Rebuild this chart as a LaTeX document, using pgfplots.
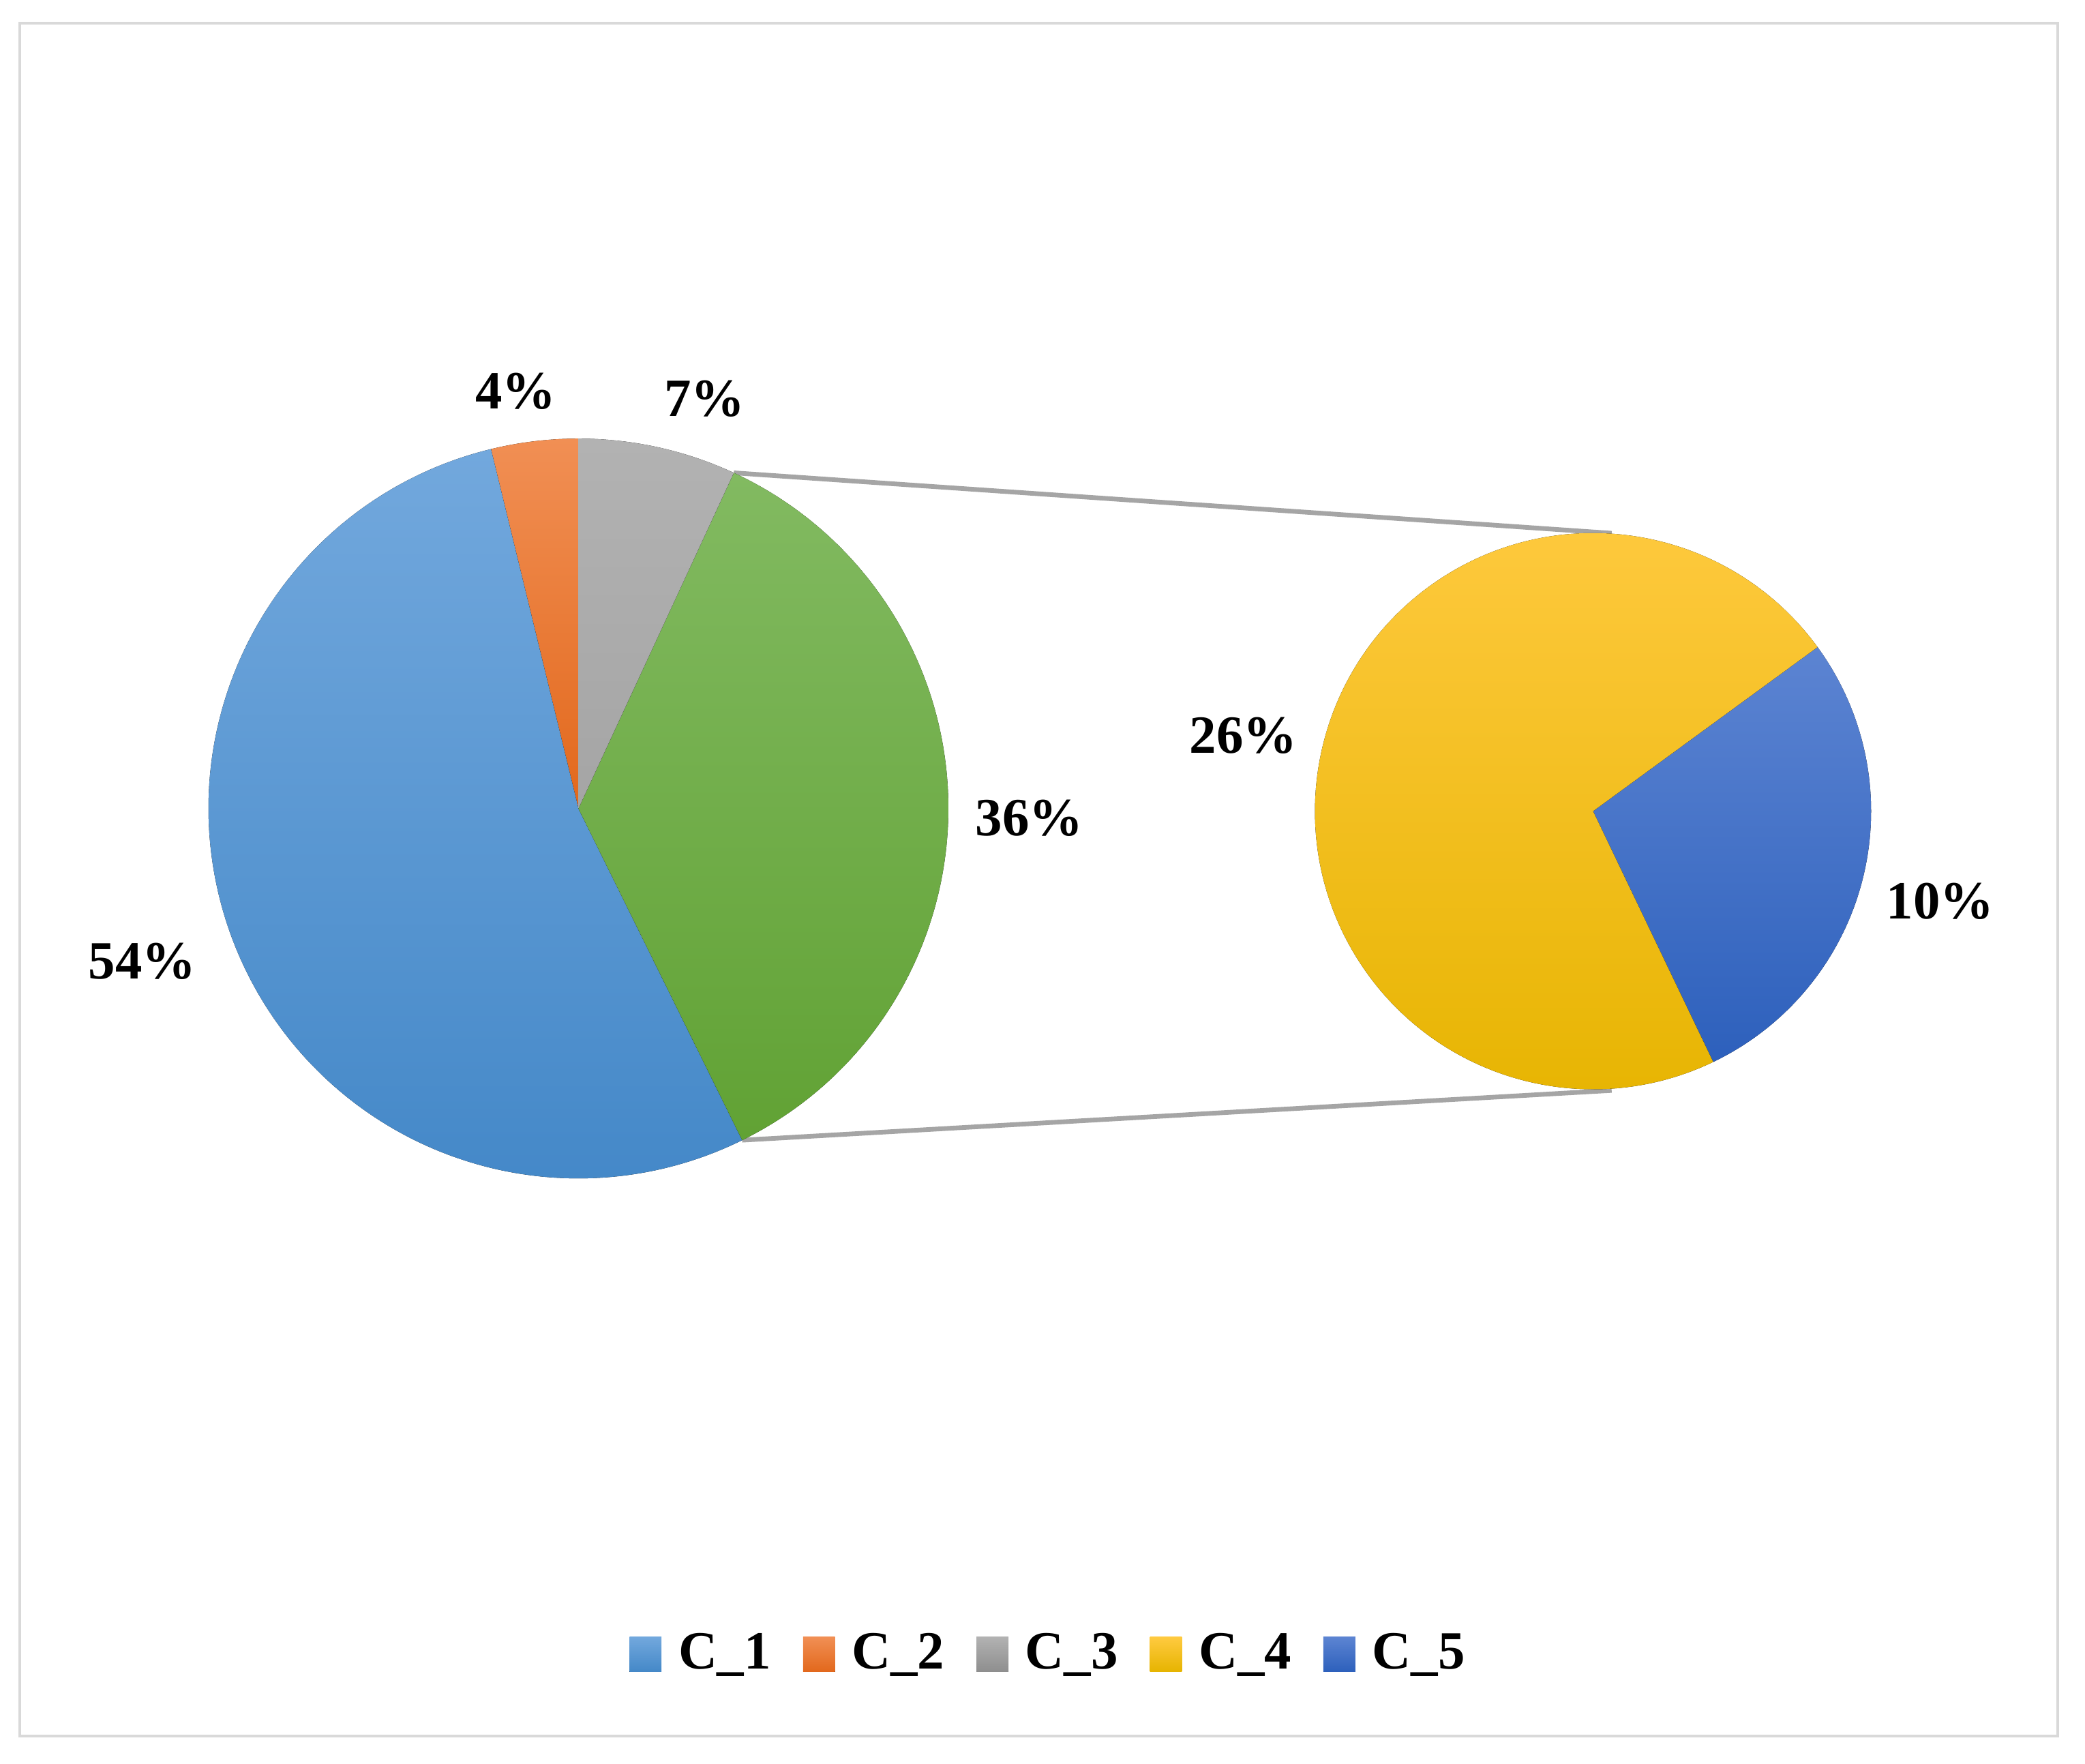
\documentclass[border=0pt]{standalone}
\usepackage{fontspec}
\setmainfont{Liberation Serif}
\usepackage{pgfplots}
\usepackage{pgfplotstable}
\pgfplotsset{compat=1.18}

% slice colours: light top, base, dark bottom
\definecolor{cAt}{RGB}{114,168,221}\definecolor{cAm}{RGB}{91,155,213}\definecolor{cAb}{RGB}{68,136,200}
\definecolor{cBt}{RGB}{241,143,84}\definecolor{cBm}{RGB}{237,125,49}\definecolor{cBb}{RGB}{226,104,28}
\definecolor{cCt}{RGB}{178,178,178}\definecolor{cCm}{RGB}{165,165,165}\definecolor{cCb}{RGB}{142,142,142}
\definecolor{cDt}{RGB}{255,202,64}\definecolor{cDm}{RGB}{255,194,0}\definecolor{cDb}{RGB}{230,180,0}
\definecolor{cEt}{RGB}{92,132,210}\definecolor{cEm}{RGB}{68,114,196}\definecolor{cEb}{RGB}{45,96,188}
\definecolor{cOt}{RGB}{130,186,97}\definecolor{cOm}{RGB}{112,173,71}\definecolor{cOb}{RGB}{97,162,52}
\definecolor{framegray}{RGB}{217,217,217}
\definecolor{linkgray}{RGB}{165,165,165}

\pgfplotstableread{
name value
C1   53.5
C2   3.8
C3   6.9
C4   25.8
C5   10.0
}\piedata

\newcommand{\pielabel}{\fontsize{11.5}{13}\selectfont\bfseries}
\newcommand{\legsq}[3]{\addlegendimage{legend image code/.code={%
  \fill[draw=none, top color=#1, middle color=#2, bottom color=#3] (0cm,-0.13cm) rectangle (0.24cm,0.13cm);
  \path (0.29cm,0cm);}}}

\begin{document}
\begin{tikzpicture}
\pgfplotstablegetelem{0}{value}\of\piedata \let\vA\pgfplotsretval
\pgfplotstablegetelem{1}{value}\of\piedata \let\vB\pgfplotsretval
\pgfplotstablegetelem{2}{value}\of\piedata \let\vC\pgfplotsretval
\pgfplotstablegetelem{3}{value}\of\piedata \let\vD\pgfplotsretval
\pgfplotstablegetelem{4}{value}\of\piedata \let\vE\pgfplotsretval
\pgfmathsetmacro\vO{\vD+\vE}
% first pie, counterclockwise from 12 o'clock: C_2, C_1, other, C_3
\pgfmathsetmacro\aA{90}
\pgfmathsetmacro\aB{\aA+3.6*\vB}
\pgfmathsetmacro\aC{\aB+3.6*\vA}
\pgfmathsetmacro\aD{\aC+3.6*\vO}
\pgfmathsetmacro\aE{\aA+360}
% second pie: C_5, C_4
\pgfmathsetmacro\bA{-64.4}
\pgfmathsetmacro\bB{\bA+360*\vE/\vO}
\pgfmathsetmacro\bC{\bA+360}
\begin{axis}[
    x=0.01cm, y=0.01cm,
    xmin=0, xmax=1568, ymin=0, ymax=1326,
    scale only axis,
    hide axis,
    clip=false,
    legend columns=5,
    legend style={draw=none, fill=none,
        at={(0.5045,0.0618)}, anchor=center,
        font=\pielabel,
        /tikz/every even column/.append style={column sep=0.17cm}},
    ]
\fill[white] (axis cs:0,0) rectangle (axis cs:1568,1326);
\draw[framegray, line width=0.02cm] (axis cs:14.8,20.6) rectangle (axis cs:1547.6,1308.6);

% connector lines
\draw[linkgray, line width=0.035cm] (axis cs:435,718) ++(\aD:2.78cm) -- (axis cs:1212,925);
\draw[linkgray, line width=0.035cm] (axis cs:435,718) ++(\aC:2.78cm) -- (axis cs:1212,506);

% main pie
\fill[top color=cBt, middle color=cBm, bottom color=cBb] (axis cs:435,718) -- ++(\aA:2.78cm) arc[start angle=\aA, end angle=\aB, radius=2.78cm] -- cycle;
\fill[top color=cAt, middle color=cAm, bottom color=cAb] (axis cs:435,718) -- ++(\aB:2.78cm) arc[start angle=\aB, end angle=\aC, radius=2.78cm] -- cycle;
\fill[top color=cOt, middle color=cOm, bottom color=cOb] (axis cs:435,718) -- ++(\aC:2.78cm) arc[start angle=\aC, end angle=\aD, radius=2.78cm] -- cycle;
\fill[top color=cCt, middle color=cCm, bottom color=cCm] (axis cs:435,718) -- ++(\aD:2.78cm) arc[start angle=\aD, end angle=\aE, radius=2.78cm] -- cycle;

% second pie
\fill[top color=cEt, middle color=cEm, bottom color=cEb] (axis cs:1198,716) -- ++(\bA:2.09cm) arc[start angle=\bA, end angle=\bB, radius=2.09cm] -- cycle;
\fill[top color=cDt, middle color=cDm, bottom color=cDb] (axis cs:1198,716) -- ++(\bB:2.09cm) arc[start angle=\bB, end angle=\bC, radius=2.09cm] -- cycle;

% data labels
\node[font=\pielabel] at (axis cs:388,1032) {4\%};
\node[font=\pielabel] at (axis cs:530,1026) {7\%};
\node[font=\pielabel] at (axis cs:774,711) {36\%};
\node[font=\pielabel] at (axis cs:107,603) {54\%};
\node[font=\pielabel] at (axis cs:935,773) {26\%};
\node[font=\pielabel] at (axis cs:1459,648) {10\%};

\legsq{cAt}{cAm}{cAb}\addlegendentry{C\_1}
\legsq{cBt}{cBm}{cBb}\addlegendentry{C\_2}
\legsq{cCt}{cCm}{cCb}\addlegendentry{C\_3}
\legsq{cDt}{cDm}{cDb}\addlegendentry{C\_4}
\legsq{cEt}{cEm}{cEb}\addlegendentry{C\_5}
\end{axis}
\end{tikzpicture}
\end{document}
